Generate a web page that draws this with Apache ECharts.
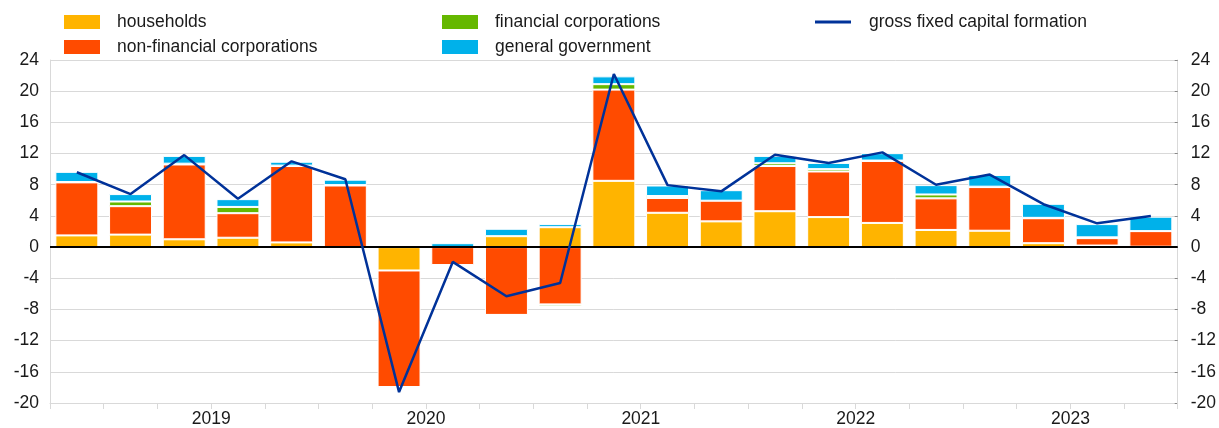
<!DOCTYPE html>
<html>
<head>
<meta charset="utf-8">
<script src="https://cdn.jsdelivr.net/npm/echarts@6/dist/echarts.min.js"></script>
<style>
html,body{margin:0;padding:0;background:#fff;}
#chart{width:1219px;height:428px;}
</style>
</head>
<body>
<div id="chart"></div>
<script>
// Quarters 2018Q4 .. 2023Q4
const categories = ['2018Q4','2019Q1','2019Q2','2019Q3','2019Q4','2020Q1','2020Q2','2020Q3','2020Q4','2021Q1','2021Q2','2021Q3','2021Q4','2022Q1','2022Q2','2022Q3','2022Q4','2023Q1','2023Q2','2023Q3','2023Q4'];
const yearTickLabels = ['2019','2020','2021','2022','2023'];
const households = [1.5, 1.6, 1.0, 1.2, 0.6, 0.0, -3.0, 0.0, 1.4, 2.55, 8.5, 4.4, 3.3, 4.6, 3.85, 3.1, 2.2, 2.1, 0.5, 0.2, 0.05];
const nonFinancial = [6.8, 3.65, 9.6, 3.15, 9.8, 7.9, -14.95, -2.3, -8.7, -7.35, 11.7, 1.9, 2.65, 5.8, 5.85, 7.95, 4.05, 5.6, 3.2, 0.95, 2.0];
const financial = [0.05, 0.6, 0.1, 0.8, 0.05, 0.05, -0.2, -0.1, 0.0, -0.25, 0.7, 0.25, -0.1, 0.35, 0.3, 0.05, 0.5, 0.05, 0.05, 0.1, 0.0];
const government = [1.3, 0.95, 1.0, 1.0, 0.5, 0.7, 0.0, 0.5, 0.95, 0.4, 1.0, 1.35, 1.35, 0.95, 0.8, 0.95, 1.2, 1.5, 1.8, 1.7, 1.85];
const gfcf = [9.6, 6.8, 11.8, 6.2, 11.0, 8.7, -18.6, -1.9, -6.3, -4.6, 22.2, 7.95, 7.15, 11.85, 10.8, 12.15, 8.0, 9.3, 5.5, 3.05, 4.0];

const FONT = "'Liberation Sans', Arial, sans-serif";
const TXT = '#1a1a1a';
const GRID = '#d9d9d9';

const chart = echarts.init(document.getElementById('chart'), null, {renderer:'canvas'});

function barSeries(name, data, color) {
  return {
    name, type: 'bar', stack: 'total', data,
    yAxisIndex: 0,
    barCategoryGap: '20%',
    itemStyle: {color, borderColor: '#fff', borderWidth: 1},
    emphasis: {disabled: true}
  };
}

const legendText = {fontFamily: FONT, fontSize: 17.5, color: TXT, lineHeight: 16, padding: [0, 0, 0, 11]};

chart.setOption({
  animation: false,
  textStyle: {fontFamily: FONT},
  grid: {left: 50, right: 41, top: 60, bottom: 23, containLabel: false},
  legend: [
    {left: 62, top: 13, orient: 'vertical', padding: 0, itemGap: 7, itemWidth: 38, itemHeight: 16,
     icon: 'rect', textStyle: legendText, selectedMode: false,
     data: ['households', 'non-financial corporations']},
    {left: 440, top: 13, orient: 'vertical', padding: 0, itemGap: 7, itemWidth: 38, itemHeight: 16,
     icon: 'rect', textStyle: legendText, selectedMode: false,
     data: ['financial corporations', 'general government']},
    {left: 815, top: 13, orient: 'vertical', padding: 0, itemGap: 7, itemWidth: 36, itemHeight: 3,
     icon: 'rect', textStyle: Object.assign({}, legendText, {padding: [0, 0, 0, 13]}),
     selectedMode: false, itemStyle: {color: '#003299'},
     data: ['gross fixed capital formation']}
  ],
  xAxis: {
    type: 'category', data: categories, boundaryGap: true,
    axisLine: {show: true, onZero: false, lineStyle: {color: GRID, width: 1}},
    axisTick: {show: true, interval: 0, length: 6, lineStyle: {color: GRID}},
    axisLabel: {
      interval: 0, margin: 7, fontSize: 17.5, color: TXT, fontFamily: FONT,
      padding: [0, 0, 0, 54],
      formatter: function (v) {
        const y = v.slice(0, 4);
        return (v.endsWith('Q2') && yearTickLabels.indexOf(y) >= 0) ? y : '';
      }
    },
    splitLine: {show: false}
  },
  yAxis: [
    {type: 'value', min: -20, max: 24, interval: 4, position: 'left',
     axisLine: {show: true, lineStyle: {color: GRID}},
     axisTick: {show: false},
     axisLabel: {fontSize: 17.5, color: TXT, margin: 11, fontFamily: FONT},
     splitLine: {show: true, lineStyle: {color: GRID, width: 1}}},
    {type: 'value', min: -20, max: 24, interval: 4, position: 'right',
     axisLine: {show: true, lineStyle: {color: GRID}},
     axisTick: {show: true, inside: true, length: 3, lineStyle: {color: '#888'}},
     axisLabel: {fontSize: 17.5, color: TXT, margin: 13, fontFamily: FONT},
     splitLine: {show: false}}
  ],
  series: [
    Object.assign(barSeries('households', households, '#FFB400'), {
      markLine: {silent: true, symbol: 'none', label: {show: false},
                 lineStyle: {color: '#000', width: 2, type: 'solid'},
                 data: [{yAxis: 0}], z: 5}
    }),
    barSeries('non-financial corporations', nonFinancial, '#FF4B00'),
    barSeries('financial corporations', financial, '#65B800'),
    barSeries('general government', government, '#00B1EA'),
    {name: 'gross fixed capital formation', type: 'line', data: gfcf, yAxisIndex: 0,
     symbol: 'none', showSymbol: false, z: 10,
     lineStyle: {color: '#003299', width: 2.5}, itemStyle: {color: '#003299'},
     emphasis: {disabled: true}}
  ]
});
</script>
</body>
</html>
